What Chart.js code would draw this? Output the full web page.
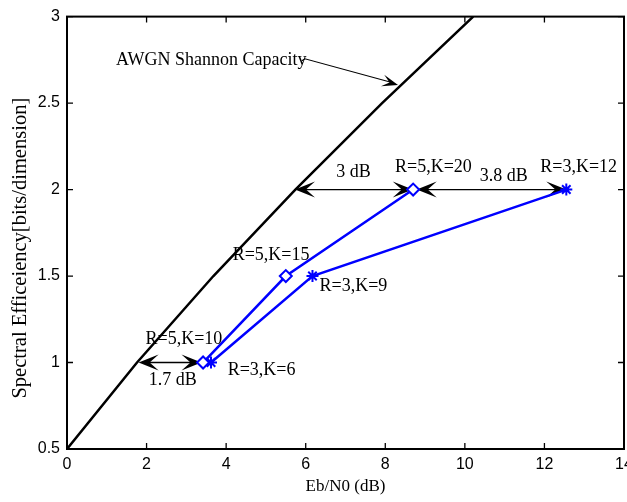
<!DOCTYPE html>
<html><head><meta charset="utf-8">
<script src="https://cdn.jsdelivr.net/npm/chart.js@4/dist/chart.umd.min.js"></script>
<style>html,body{margin:0;padding:0;overflow:hidden;background:#fff}canvas{display:block}</style>
</head><body>
<canvas id="c" width="640" height="502"></canvas>
<script>
// ---- data ----
const capacityEbN0 = [0, 1.76, 3.68, 5.74, 7.92, 10.21];
const capacityEff  = [0.5, 1, 1.5, 2, 2.5, 3];
const r5EbN0 = [3.42, 5.5, 8.7];
const r5Eff  = [1, 1.5, 2];
const r3EbN0 = [3.62, 6.17, 12.55];
const r3Eff  = [1, 1.5, 2];
const xTickValues = [0, 2, 4, 6, 8, 10, 12, 14];
const yTickValues = [0.5, 1, 1.5, 2, 2.5, 3];

// annotation anchors (data coordinates)
const gapArrows = [
  {x1: 1.80, x2: 3.38, y: 1},
  {x1: 5.73, x2: 8.69, y: 2},
  {x1: 8.79, x2: 12.55, y: 2}
];
const noteLabels = [
  {text: 'R=5,K=15', x: 5.13, y: 1.619},
  {text: 'R=5,K=10', x: 2.94, y: 1.132},
  {text: '1.7 dB',   x: 2.66, y: 0.897},
  {text: 'R=3,K=6',  x: 4.89, y: 0.954},
  {text: 'R=3,K=9',  x: 7.20, y: 1.441},
  {text: '3 dB',     x: 7.20, y: 2.100},
  {text: 'R=5,K=20', x: 9.21, y: 2.129},
  {text: '3.8 dB',   x: 10.98, y: 2.077},
  {text: 'R=3,K=12', x: 12.86, y: 2.129}
];
const capacityNote = {text: 'AWGN Shannon Capacity', x: 1.23, y: 2.75,
  fromX: 5.98, fromY: 2.756, toX: 8.32, toY: 2.605};
const yTitle = 'Spectral Efficeiency[bits/dimension]';

const toPts = (xs, ys) => xs.map((x, i) => ({x: x, y: ys[i]}));
const SERIF = '"Liberation Serif", "Times New Roman", serif';
const SANS = '"Liberation Sans", Arial, sans-serif';

function arrowHead(ctx, tx, ty, dx, dy, len, hw) {
  const n = Math.hypot(dx, dy); dx /= n; dy /= n;
  const px = -dy, py = dx;
  ctx.beginPath();
  ctx.moveTo(tx, ty);
  ctx.lineTo(tx - dx * len + px * hw, ty - dy * len + py * hw);
  ctx.lineTo(tx - dx * len * 0.55, ty - dy * len * 0.55);
  ctx.lineTo(tx - dx * len - px * hw, ty - dy * len - py * hw);
  ctx.closePath();
  ctx.fill();
}

const annotations = {
  id: 'annotations',
  beforeDatasetsDraw(chart) {
    const {ctx, scales: {x, y}} = chart;
    ctx.save();
    ctx.fillStyle = '#000'; ctx.strokeStyle = '#000';
    gapArrows.forEach(a => {
      const x1 = x.getPixelForValue(a.x1), x2 = x.getPixelForValue(a.x2), yy = y.getPixelForValue(a.y);
      ctx.lineWidth = 1.3;
      ctx.beginPath(); ctx.moveTo(x1 + 10, yy); ctx.lineTo(x2 - 10, yy); ctx.stroke();
      arrowHead(ctx, x1, yy, -1, 0, 20, 8);
      arrowHead(ctx, x2, yy, 1, 0, 20, 8);
    });
    const fx = x.getPixelForValue(capacityNote.fromX), fy = y.getPixelForValue(capacityNote.fromY);
    const tx = x.getPixelForValue(capacityNote.toX), ty = y.getPixelForValue(capacityNote.toY);
    ctx.lineWidth = 1.1;
    ctx.beginPath(); ctx.moveTo(fx - 3, fy + 2); ctx.lineTo(fx, fy); ctx.lineTo(tx - 8, ty - 3); ctx.stroke();
    arrowHead(ctx, tx, ty, tx - fx, ty - fy, 16, 6);
    ctx.restore();
  },
  afterDraw(chart) {
    const {ctx, chartArea: ca, scales: {x, y}} = chart;
    ctx.save();
    ctx.fillStyle = '#000';
    ctx.font = '18px ' + SERIF;
    ctx.textBaseline = 'middle';
    ctx.textAlign = 'center';
    noteLabels.forEach(l => ctx.fillText(l.text, x.getPixelForValue(l.x), y.getPixelForValue(l.y)));
    ctx.textAlign = 'left';
    ctx.fillText(capacityNote.text, x.getPixelForValue(capacityNote.x), y.getPixelForValue(capacityNote.y));
    ctx.strokeStyle = '#000';
    ctx.lineWidth = 2;
    ctx.strokeRect(ca.left, ca.top, ca.right - ca.left, ca.bottom - ca.top);
    ctx.lineWidth = 1.3;
    ctx.beginPath();
    xTickValues.forEach(v => {
      const p = x.getPixelForValue(v);
      ctx.moveTo(p, ca.bottom); ctx.lineTo(p, ca.bottom - 6);
      ctx.moveTo(p, ca.top); ctx.lineTo(p, ca.top + 6);
    });
    yTickValues.forEach(v => {
      const p = y.getPixelForValue(v);
      ctx.moveTo(ca.left, p); ctx.lineTo(ca.left + 6, p);
      ctx.moveTo(ca.right, p); ctx.lineTo(ca.right - 6, p);
    });
    ctx.stroke();
    ctx.restore();
  }
};

new Chart(document.getElementById('c'), {
  type: 'scatter',
  data: {
    datasets: [
      {label: 'AWGN Shannon Capacity', data: toPts(capacityEbN0, capacityEff), showLine: true,
       borderColor: '#000', borderWidth: 2.5, pointRadius: 0, tension: 0},
      {label: 'R=5', data: toPts(r5EbN0, r5Eff), showLine: true, borderColor: '#0000ff', borderWidth: 2.5,
       pointStyle: 'rectRot', pointRadius: 6, pointBorderWidth: 2, pointBackgroundColor: '#fff', pointBorderColor: '#0000ff'},
      {label: 'R=3', data: toPts(r3EbN0, r3Eff), showLine: true, borderColor: '#0000ff', borderWidth: 2.5,
       pointStyle: 'star', pointRadius: 6, pointBorderWidth: 2, pointBackgroundColor: '#0000ff', pointBorderColor: '#0000ff'}
    ]
  },
  options: {
    responsive: false,
    animation: false,
    devicePixelRatio: 1,
    layout: {padding: {top: 11, right: 16, left: 0, bottom: 0}},
    plugins: {legend: {display: false}, tooltip: {enabled: false}},
    scales: {
      x: {
        type: 'linear', min: 0, max: 14,
        afterBuildTicks: s => { s.ticks = xTickValues.map(v => ({value: v})); },
        afterFit: s => { s.height = 53; },
        grid: {display: false, drawTicks: false}, border: {display: false},
        ticks: {padding: 6, color: '#000', font: {family: SANS, size: 16}, maxRotation: 0, callback: v => String(v)},
        title: {display: true, text: 'Eb/N0 (dB)', color: '#000', font: {family: SERIF, size: 17}, padding: {top: 0, bottom: 5}}
      },
      y: {
        type: 'linear', min: 0.5, max: 3,
        afterBuildTicks: s => { s.ticks = yTickValues.map(v => ({value: v})); },
        afterFit: s => { s.width = 67; },
        grid: {display: false, drawTicks: false}, border: {display: false},
        ticks: {padding: 7, color: '#000', font: {family: SANS, size: 16}, callback: v => String(v)},
        title: {display: true, text: yTitle + '\u2003\u2002', color: '#000', font: {family: SERIF, size: 20.5}, padding: {top: 8, bottom: 0}}
      }
    }
  },
  plugins: [annotations]
});
</script>
</body></html>
